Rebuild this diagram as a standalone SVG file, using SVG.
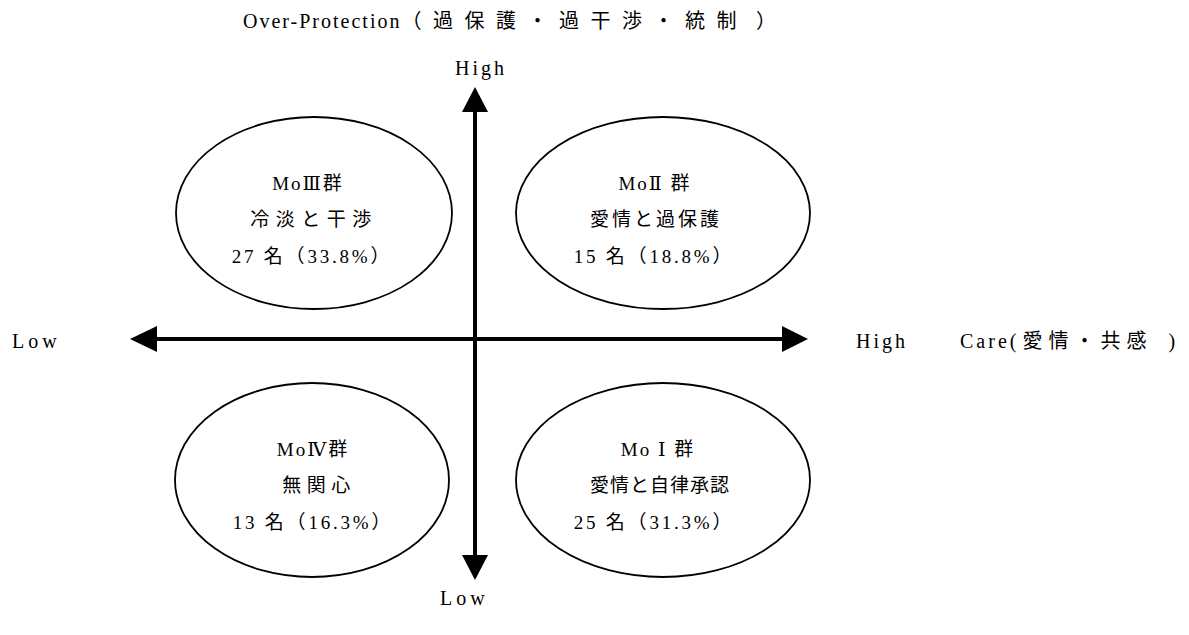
<svg xmlns="http://www.w3.org/2000/svg" width="1189" height="635" viewBox="0 0 1189 635">
<defs>
<style>
.t{font-family:"Liberation Serif","Noto Sans CJK JP",serif;font-size:19px;fill:#000;}
.a{font-size:20px;letter-spacing:3px;}
.rn{font-family:"DejaVu Serif","Liberation Serif","Noto Sans CJK JP",serif;}
.n{letter-spacing:2px;}
.p{letter-spacing:2.8px;}
.ell{fill:none;stroke:#000;stroke-width:1.8;}
.ax{stroke:#000;stroke-width:4;fill:none;}
.ah{fill:#000;}
</style>
</defs>
<rect width="1189" height="635" fill="#fff"/>
<g id="connectors">
<line class="ax" x1="157" y1="339" x2="783" y2="339"/>
<line class="ax" x1="475" y1="110" x2="475" y2="557"/>
<polygon class="ah" points="130,339 157,326 157,352"/>
<polygon class="ah" points="808,339 782,326 782,352"/>
<polygon class="ah" points="475,87 462,112 488,112"/>
<polygon class="ah" points="475,580 462,555 488,555"/>
</g>
<g id="axis-labels">
<text class="t" x="243" y="28" style="font-size:20px"><tspan style="letter-spacing:2px">Over-Protection</tspan><tspan style="letter-spacing:11.5px">（過保護・過干渉・統制</tspan><tspan dx="8">）</tspan></text>
<text class="t a" x="455" y="75">High</text>
<text class="t a" x="12" y="348" style="letter-spacing:4px">Low</text>
<text class="t a" x="856" y="348">High</text>
<text class="t" x="960" y="348" style="font-size:20px"><tspan style="letter-spacing:3px">Care</tspan><tspan style="letter-spacing:6px">(愛情・共感</tspan><tspan dx="16">)</tspan></text>
<text class="t a" x="440" y="605" style="letter-spacing:4px">Low</text>
</g>
<g id="node-mo3">
<ellipse class="ell" cx="314" cy="213" rx="138" ry="96"/>
<text class="t n" text-anchor="middle" x="308" y="190">Mo<tspan class="rn">Ⅲ</tspan>群</text>
<text class="t" text-anchor="middle" x="314" y="226" style="letter-spacing:6.5px">冷淡と干渉</text>
<text class="t p" text-anchor="middle" x="312" y="263">27 名（33.8%）</text>
</g>
<g id="node-mo2">
<ellipse class="ell" cx="663" cy="213" rx="147" ry="96"/>
<text class="t n" text-anchor="middle" x="655" y="190">Mo<tspan class="rn">Ⅱ</tspan> 群</text>
<text class="t" text-anchor="middle" x="656" y="226" style="letter-spacing:3px">愛情と過保護</text>
<text class="t p" text-anchor="middle" x="654" y="263">15 名（18.8%）</text>
</g>
<g id="node-mo4">
<ellipse class="ell" cx="312" cy="480" rx="137" ry="97"/>
<text class="t n" text-anchor="middle" x="313" y="456">Mo<tspan class="rn">Ⅳ</tspan>群</text>
<text class="t" text-anchor="middle" x="319" y="492" style="letter-spacing:5.5px">無関心</text>
<text class="t p" text-anchor="middle" x="313" y="529">13 名（16.3%）</text>
</g>
<g id="node-mo1">
<ellipse class="ell" cx="663" cy="480" rx="147" ry="97"/>
<text class="t n" text-anchor="middle" x="658" y="456">Mo <tspan class="rn">Ⅰ</tspan> 群</text>
<text class="t" text-anchor="middle" x="660" y="492" style="letter-spacing:1px">愛情と自律承認</text>
<text class="t p" text-anchor="middle" x="654" y="529">25 名（31.3%）</text>
</g>
</svg>
